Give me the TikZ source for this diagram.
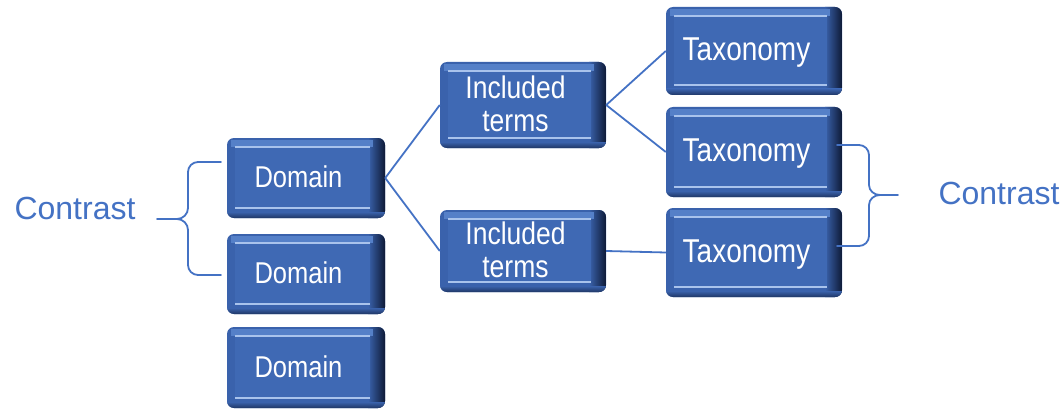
\documentclass[tikz,border=0pt]{standalone}
\usepackage{fontspec}
\setmainfont{Liberation Sans}
\definecolor{boxbody}{HTML}{3A62AC}
\definecolor{boxface}{HTML}{3F69B4}
\definecolor{boxdark}{HTML}{0E1A36}
\definecolor{bevtop}{HTML}{5580C8}
\definecolor{hiline}{HTML}{A9C3EC}
\definecolor{linkblue}{HTML}{4472C4}
\tikzset{
  boxtext/.style={inner sep=0pt, text=white},
  link/.style={draw=linkblue, line width=1.8pt},
  bracepath/.style={draw=linkblue, line width=1.8pt, line cap=round, line join=round},
  contrast/.style={text=linkblue, font=\fontsize{32}{36}\selectfont, inner sep=0pt}
}
\newcommand{\bevbox}[7]{%
  \fill[boxbody, rounded corners=7pt] (#2,#3) rectangle (#4,#5);
  \begin{scope}
    \clip[rounded corners=7pt] (#2,#3) rectangle (#4,#5);
    \shade[left color=boxbody, right color=boxdark] ({#4-17},#3) rectangle (#4,#5);
    \shade[top color=boxbody, bottom color=boxdark!60!boxbody] (#2,{#5-6}) rectangle (#4,#5);
    \fill[bevtop] ({#2+4},{#3+2}) rectangle ({#4-12},{#3+9});
  \end{scope}
  \fill[boxface] ({#2+8},{#3+9}) rectangle ({#4-15},{#5-10});
  \draw[hiline, line width=1.3pt] ({#2+8},{#3+9}) -- ({#4-15},{#3+9});
  \draw[hiline, line width=1.3pt] ({#2+8},{#5-10}) -- ({#4-15},{#5-10});
  \node[inner sep=0pt, minimum width={#4-#2}, minimum height={#5-#3},
    label={[boxtext, xshift=-7.5pt, yshift=-3.5pt, font=\fontsize{#7}{27.5}\selectfont]center:{\scalebox{1}[1.18]{\begin{tabular}{@{}c@{}}#6\end{tabular}}}}]
    (#1) at ({(#2+#4)/2},{(#3+#5)/2}) {};
}
\begin{document}
\begin{tikzpicture}[x=1pt,y=-1pt]
\useasboundingbox (0,0) rectangle (1061,412);
\bevbox{dom1}{227}{138}{385}{218}{Domain}{25.5}
\bevbox{dom2}{227}{234}{385}{314}{Domain}{25.5}
\bevbox{dom3}{227}{327}{385}{408}{Domain}{25.5}
\bevbox{inc1}{440}{62}{606}{148}{Included\\terms}{26.5}
\bevbox{inc2}{440}{210}{606}{292}{Included\\terms}{26.5}
\bevbox{tax1}{666}{7}{842}{95}{Taxonomy}{28}
\bevbox{tax2}{666}{107}{842}{197}{Taxonomy}{28}
\bevbox{tax3}{666}{208}{842}{297}{Taxonomy}{28}

\draw[link] (dom1.east) -- (inc1.west);
\draw[link] (dom1.east) -- (inc2.west);
\draw[link] (inc1.east) -- (tax1.west);
\draw[link] (inc1.east) -- (tax2.west);
\draw[link] (inc2.east) -- (tax3.west);

% left brace
\coordinate (lbtop) at (221,162);
\coordinate (lbbot) at (221,275);
\coordinate (lbtip) at (157,219);
\draw[bracepath] (lbtop) -- (198,162) to[out=180,in=90] (188,172) -- (188,208)
  to[out=-90,in=0] (177,219) -- (lbtip);
\draw[bracepath] (177,219) to[out=0,in=90] (188,230) -- (188,265)
  to[out=-90,in=180] (198,275) -- (lbbot);
\node[contrast] (cl) at (75,208) {Contrast};

% right brace
\coordinate (rbtop) at (837,145);
\coordinate (rbbot) at (837,246);
\coordinate (rbtip) at (898,195);
\draw[bracepath] (rbtop) -- (859,145) to[out=0,in=90] (869,155) -- (869,185)
  to[out=-90,in=180] (880,195) -- (rbtip);
\draw[bracepath] (880,195) to[out=180,in=90] (869,205) -- (869,236)
  to[out=-90,in=0] (859,246) -- (rbbot);
\node[contrast] (cr) at (999,193) {Contrast};
\end{tikzpicture}
\end{document}
